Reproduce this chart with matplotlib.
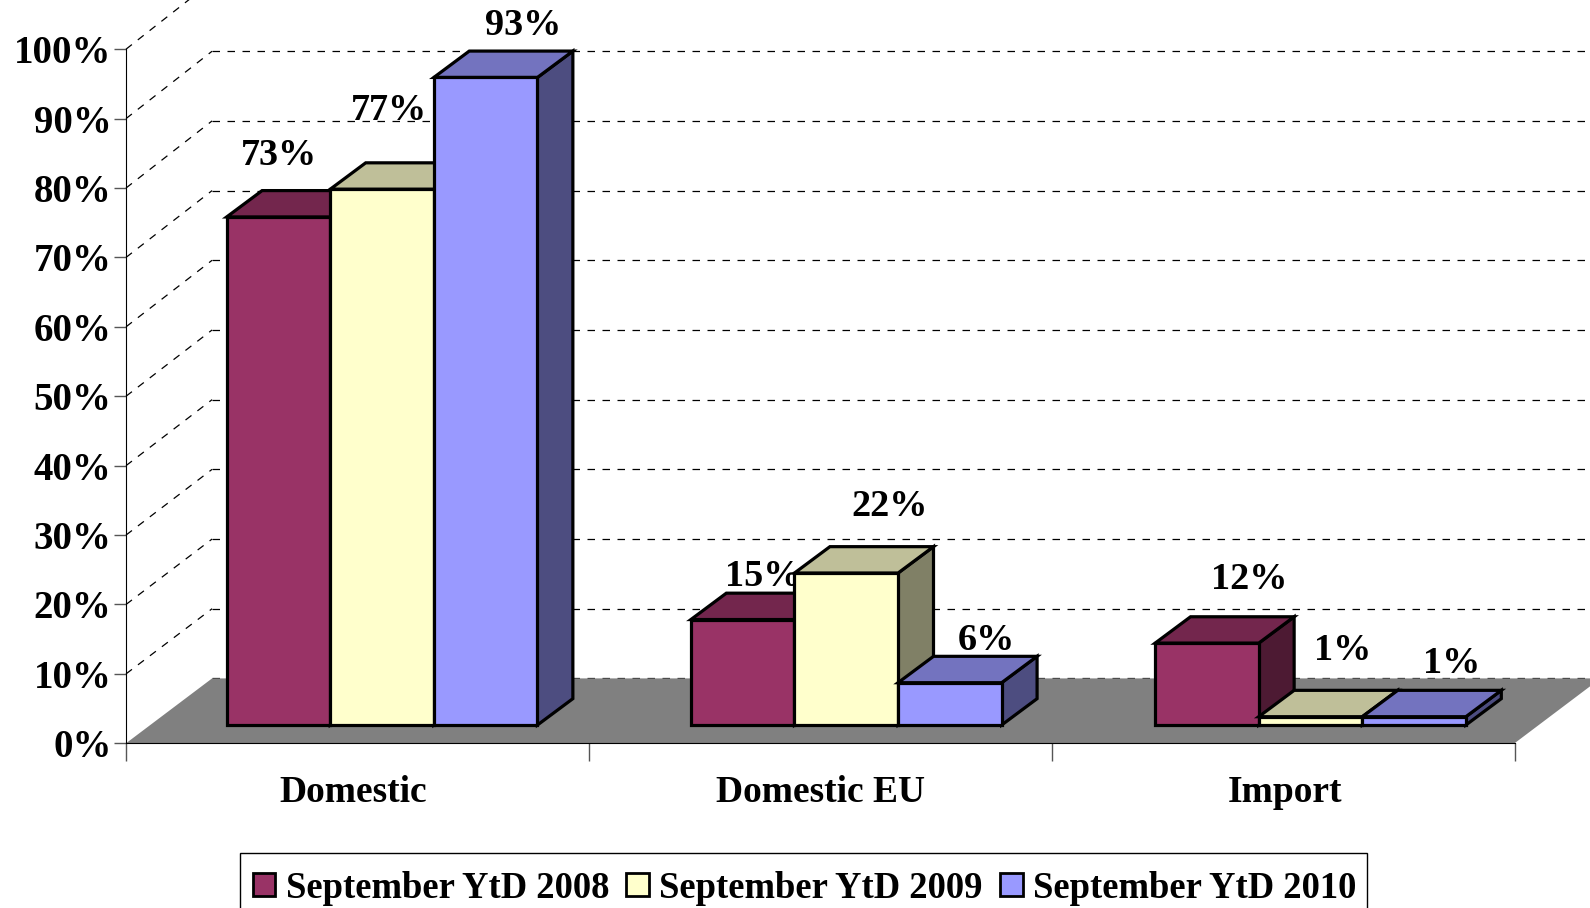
import numpy as np
import matplotlib
matplotlib.use('Agg')
import matplotlib.pyplot as plt
from matplotlib.patches import Patch,Rectangle

plt.rcParams['font.family']=['Liberation Serif','DejaVu Serif']
plt.rcParams['font.weight']='bold'

categories=['Domestic','Domestic EU','Import']
series_names=['September YtD 2008','September YtD 2009','September YtD 2010']
vals_2008=[73.2,15.2,11.8]
vals_2009=[77.2,21.9,1.2]
vals_2010=[93.3,6.1,1.2]
yticks=[0,10,20,30,40,50,60,70,80,90,100]

colors=['#993366','#FFFFCC','#9999FF']
# label offsets from the middle of each bar's front top edge, pixels
label_dx=[[1,21,42],[7,43,32],[38,37,38]]
label_dy=[[61,43,64],[79,67,66],[52,42,53]]

W,H=1590,908
x0,x3=126.0,1514.5
y0,y100=743.3,49.2
fs=28

# depth of the box and of the bars, in data units
box_dx,box_dy=0.186,9.35
back_scale=1.004
bar_dx,bar_dy=0.0766,3.8
bar_left,bar_w=0.2175,0.2238
bar_step=1.003
bar_base=2.63

def shade(c,f):
    return tuple(np.array(matplotlib.colors.to_rgb(c))*f)

fig=plt.figure(figsize=(W/100,H/100),dpi=100)
ax=fig.add_axes([x0/W,1-y0/H,(x3-x0)/W,(y0-y100)/H])
ax.set_xlim(0,3)
ax.set_ylim(0,100)
ax.patch.set_visible(False)
for s in ['top','right']:
    ax.spines[s].set_visible(False)

# floor
ax.fill([0,3,3+box_dx,box_dx],[0,0,box_dy,box_dy],color='#808080',lw=0,zorder=1,clip_on=False)

# back wall and side wall grid
for t in yticks:
    if t>0:
        ax.plot([0,box_dx],[t,t*back_scale+box_dy],color='k',lw=0.9,ls=(0,(6,6)),zorder=0,clip_on=False)
    if t<100:
        ax.plot([box_dx,3+box_dx],[t*back_scale+box_dy,t*back_scale+box_dy],color='k',lw=0.9,ls=(0,(6,6)),zorder=0.5,clip_on=False)

# bars
for j,vals in enumerate([vals_2008,vals_2009,vals_2010]):
    for i,v in enumerate(vals):
        left=i*bar_step+bar_left+j*bar_w
        right=left+bar_w
        top=bar_base+v
        z=3+i*3+j*0.3
        ax.fill([right,right+bar_dx,right+bar_dx,right],[bar_base,bar_base+bar_dy,top+bar_dy,top],
                facecolor=shade(colors[j],0.5),edgecolor='k',lw=2.3,zorder=z,clip_on=False,joinstyle='miter')
        ax.fill([left,left+bar_dx,right+bar_dx,right],[top,top+bar_dy,top+bar_dy,top],
                facecolor=shade(colors[j],0.75),edgecolor='k',lw=2.3,zorder=z+0.1,clip_on=False,joinstyle='miter')
        ax.bar(left,v,bar_w,bottom=bar_base,align='edge',color=colors[j],edgecolor='k',lw=2.3,zorder=z+0.2,clip_on=False)
        ax.annotate(f'{v:.0f}%',(left+bar_w/2,top),xytext=(label_dx[j][i],label_dy[j][i]),textcoords='offset pixels',
                    ha='center',va='center',fontsize=27.5,fontweight='bold',zorder=2,annotation_clip=False)

ax.set_yticks(yticks)
ax.set_yticklabels([f'{t}%' for t in yticks],fontsize=fs,fontweight='bold')
ax.tick_params(axis='y',length=9,width=1,color='#555555',pad=1.5)
ax.set_xticks([0,1,2,3])
ax.set_xticklabels([])
ax.set_xticks([0.49,1.5,2.505],labels=categories,minor=True)
ax.tick_params(axis='x',which='major',length=13,width=1,color='#555555')
ax.tick_params(axis='x',which='minor',length=0,pad=23,labelsize=27)

# legend frame runs past the bottom of the picture
fig.add_artist(Rectangle((239.5/W,-20/H),(1367-239.5)/W,(908-853+20)/H,transform=fig.transFigure,
                         facecolor='white',edgecolor='k',lw=1))
handles=[Patch(facecolor=c,edgecolor='k',lw=2) for c in colors]
leg=fig.legend(handles,series_names,ncol=3,loc='upper left',bbox_to_anchor=(252.5/W,1-870.5/H),bbox_transform=fig.transFigure,
               frameon=False,borderaxespad=0,borderpad=0,
               handlelength=0.62,handleheight=0.62,handletextpad=0.28,columnspacing=0.47,
               prop={'family':'Liberation Serif','weight':'bold','size':26.4})
leg.set_zorder(5)

fig.savefig('out.png',dpi=100)
